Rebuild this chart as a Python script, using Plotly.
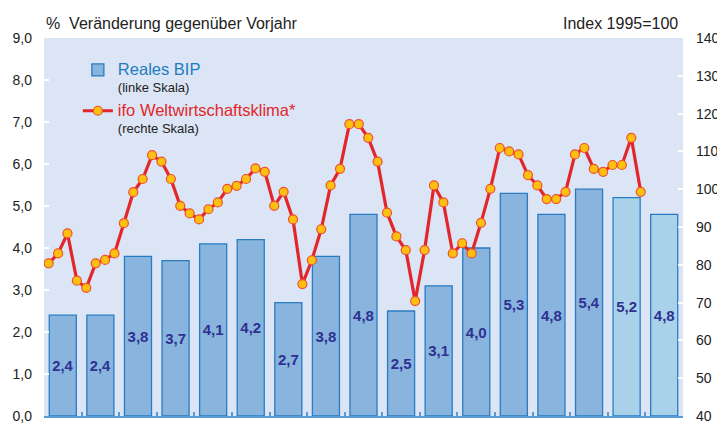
import plotly.graph_objects as go

years = list(range(1992, 2009))
gdp = [2.4, 2.4, 3.8, 3.7, 4.1, 4.2, 2.7, 3.8, 4.8, 2.5, 3.1, 4.0, 5.3, 4.8, 5.4, 5.2, 4.8]
forecast = [False] * 15 + [True, True]

ifo_years = list(range(1992, 2008))
ifo = [
    80.4, 83.0, 88.3, 75.8,
    73.9, 80.4, 81.3, 83.0,
    91.0, 99.2, 102.7, 109.0,
    107.3, 102.7, 95.6, 93.6,
    92.0, 94.7, 96.5, 100.1,
    100.9, 102.7, 105.5, 104.6,
    95.6, 99.3, 92.0, 74.9,
    81.2, 89.4, 101.0, 105.4,
    117.2, 117.2, 113.6, 107.3,
    93.8, 87.5, 83.9, 70.4,
    83.9, 101.0, 96.5, 83.0,
    85.7, 83.0, 91.1, 100.1,
    110.9, 110.0, 109.2, 103.7,
    101.0, 97.4, 97.4, 99.3,
    109.2, 110.9, 105.4, 104.6,
    106.4, 106.4, 113.6, 99.3,
]
ifo_x = [y - 0.375 + 0.25 * q for y in ifo_years for q in range(4)]

left_ticks = [0, 1, 2, 3, 4, 5, 6, 7, 8, 9]
right_ticks = [40, 50, 60, 70, 80, 90, 100, 110, 120, 130, 140]

FONT = "Liberation Sans, Arial, sans-serif"
bar_colors = ["#a9d2ea" if f else "#88b4dd" for f in forecast]

fig = go.Figure()
fig.add_trace(go.Bar(
    x=years, y=gdp, width=0.72,
    marker=dict(color=bar_colors, line=dict(color="#2a7cc2", width=1.3)),
    texttemplate="%{y:.1f}", textposition="inside", insidetextanchor="middle",
    textfont=dict(family=FONT, size=15, color="#2e3192", weight="bold"),
    textangle=0,
    name="<span style='color:#1f7bc1;font-size:16.5px'>Reales BIP</span><br><span style='font-size:13px;color:#222222'>(linke Skala)</span>",
    legendgroup="a",
))
fig.add_trace(go.Scatter(
    x=ifo_x, y=ifo, yaxis="y2", mode="lines+markers",
    line=dict(color="#e3262b", width=3.2),
    marker=dict(size=9, color="#fdc010", line=dict(color="#f0502a", width=1.2)),
    name="<span style='color:#e3262b;font-size:16.5px'>ifo Weltwirtschaftsklima*</span><br><span style='font-size:13px;color:#222222'>(rechte Skala)</span>",
    legendgroup="b",
))

# the page body adds an 8px offset at top/left; size the figure to fill the 725x425 window
fig.update_layout(
    width=717, height=417,
    margin=dict(l=36, r=42, t=30, b=9, autoexpand=False),
    paper_bgcolor="white", plot_bgcolor="#dbe5f5",
    separators=", ",
    font=dict(family=FONT, size=14, color="#222222"),
    showlegend=True,
    legend=dict(x=0.053, y=0.955, xanchor="left", yanchor="top",
                bgcolor="rgba(0,0,0,0)", valign="top", tracegroupgap=4,
                font=dict(family=FONT, size=13), itemwidth=30),
    xaxis=dict(range=[1991.5, 2008.5], showticklabels=False, showgrid=False, zeroline=False,
               showline=True, linecolor="#5b9bd5", linewidth=2, automargin=False,
               ticks="inside", tickcolor="#5b9bd5", ticklen=4, tickwidth=1.5,
               tickvals=[y + 0.5 for y in years[:-1]]),
    yaxis=dict(range=[0, 9], tickvals=left_ticks, tickformat=".1f", showgrid=False, zeroline=False,
               ticks="inside", tickcolor="white", ticklen=5, tickwidth=2, automargin=False,
               ticklabelstandoff=11, tickfont=dict(size=14, color="#222222")),
    yaxis2=dict(range=[40, 140], tickvals=right_ticks, overlaying="y", side="right",
                showgrid=False, zeroline=False, ticks="inside", tickcolor="white",
                ticklen=5, tickwidth=2, ticklabelstandoff=12, automargin=False,
                tickfont=dict(size=14, color="#222222")),
    annotations=[
        dict(text="%  Veränderung gegenüber Vorjahr", xref="paper", yref="paper",
             x=0.0, y=1.0, xanchor="left", yanchor="bottom", yshift=4, showarrow=False,
             font=dict(size=16, color="#222222")),
        dict(text="Index 1995=100", xref="paper", yref="paper",
             x=0.995, y=1.0, xanchor="right", yanchor="bottom", yshift=4, showarrow=False,
             font=dict(size=16, color="#222222")),
    ],
)

fig.write_html("out.html")
